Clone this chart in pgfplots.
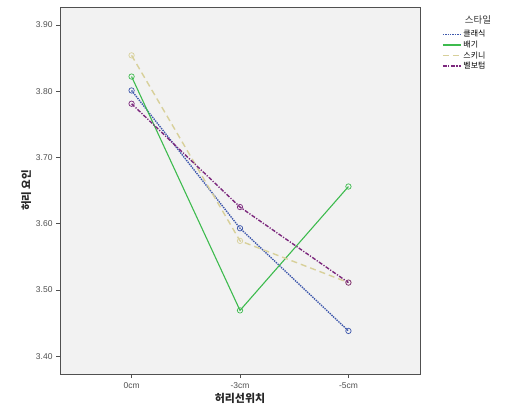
\documentclass[border=0pt]{standalone}
\usepackage{pgfplots}
\pgfplotsset{compat=1.18}
\usepackage{fontspec}
\setmainfont{Liberation Sans}
\newfontfamily\kr{Noto Sans CJK KR}
\definecolor{sblue}{HTML}{3E58AC}
\definecolor{sgreen}{HTML}{3DBB4E}
\definecolor{sbeige}{HTML}{D8D09A}
\definecolor{spurple}{HTML}{7C287D}
\definecolor{axgray}{HTML}{505050}
\definecolor{bggray}{HTML}{F2F2F2}
\begin{document}
\begin{tikzpicture}[x=1bp,y=1bp]
\useasboundingbox[fill=white] (0,0) rectangle (520,416);
\begin{axis}[
  at={(60bp,42bp)}, anchor=south west,
  scale only axis, width=360bp, height=367bp,
  xmin=-0.66, xmax=2.66,
  ymin=3.373, ymax=3.927,
  xtick={0,1,2}, xticklabels={0cm,-3cm,-5cm},
  ytick={3.4,3.5,3.6,3.7,3.8,3.9},
  yticklabel style={/pgf/number format/.cd,fixed,fixed zerofill,precision=2},
  /pgf/number format/assume math mode=true,
  tick align=outside, major tick length=4bp,
  xtick pos=bottom, ytick pos=left,
  tick style={axgray, line width=0.6pt},
  axis line style={axgray, line width=0.8pt},
  axis background/.style={fill=bggray},
  ticklabel style={font=\fontsize{8.5}{10}\selectfont, text=axgray},
  xticklabel style={yshift=-1bp},
  xlabel={\kr\bfseries 허리선위치},
  ylabel={\kr\bfseries 허리 요인},
  xlabel style={font=\fontsize{11}{13}\selectfont, text=black!85, yshift=2bp},
  ylabel style={font=\fontsize{10.5}{12}\selectfont, text=black!85, yshift=-2bp},
  legend style={at={(1.058,0.945)}, anchor=north west, draw=none, fill=none,
    font=\kr\fontsize{8}{8.5}\selectfont, row sep=-1.5bp, inner sep=1pt},
  legend cell align=left,
  legend image code/.code={\draw[#1,mark=none] (0bp,0bp) -- (18bp,0bp);},
  mark options={solid, mark size=2.7bp, fill=none, line width=0.7pt},
]
\addplot[color=sblue, line width=1.4pt, densely dotted, mark=o] coordinates {(0,3.801) (1,3.593) (2,3.438)};
\addlegendentry{클래식}
\addplot[color=sgreen, line width=1.1pt, solid, mark=o] coordinates {(0,3.822) (1,3.469) (2,3.656)};
\addlegendentry{배기}
\addplot[color=sbeige, line width=1.4pt, dash pattern=on 6bp off 4bp, mark=o] coordinates {(0,3.854) (1,3.574) (2,3.511)};
\addlegendentry{스키니}
\addplot[color=spurple, line width=1.4pt, dash pattern=on 4bp off 1.5bp on 1.2bp off 1.5bp, mark=o] coordinates {(0,3.781) (1,3.625) (2,3.511)};
\addlegendentry{벨보텀}
\end{axis}
\node[font=\kr\fontsize{9.5}{10}\selectfont, text=black!80] at (478,396) {스타일};
\end{tikzpicture}
\end{document}
